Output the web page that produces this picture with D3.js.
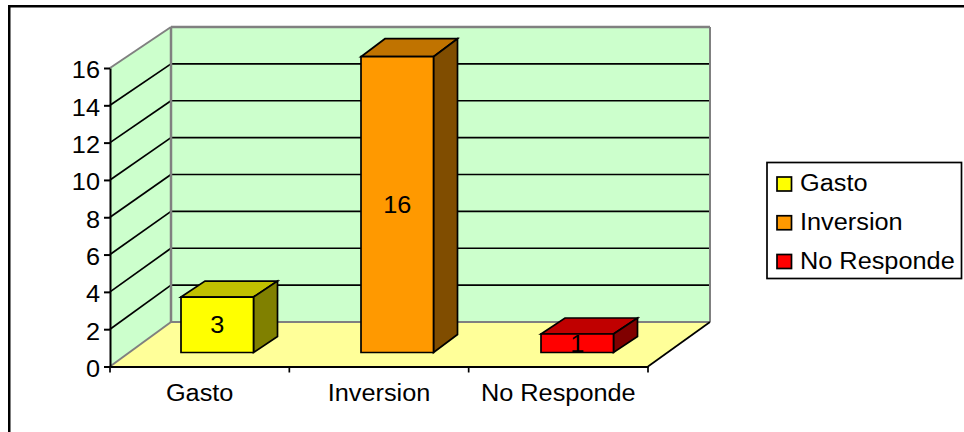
<!DOCTYPE html>
<html><head><meta charset="utf-8">
<script src="https://cdn.jsdelivr.net/npm/d3@7"></script>
<style>html,body{margin:0;padding:0;background:#fff}svg{display:block}
text{font-family:"Liberation Sans",Arial,sans-serif;fill:#000}</style></head>
<body><script>
const categories = ["Gasto","Inversion","No Responde"];
const values = [3,16,1];
const tickValues = [0,2,4,6,8,10,12,14,16];
const faceColors = ["#FFFF00","#FF9900","#FF0000"];
const topColors = ["#C0C000","#C07300","#C00000"];
const sideColors = ["#808000","#804D00","#800000"];
const W=964,H=432,FS=23,STRETCH=1.1;
const svg=d3.select("body").append("svg").attr("width",W).attr("height",H);
// frame: only the top and left edges are inside the picture
svg.append("rect").attr("x",8).attr("y",5).attr("width",W).attr("height",2.5).attr("fill","#000");
svg.append("rect").attr("x",8).attr("y",5).attr("width",2.5).attr("height",H).attr("fill","#000");
const yFront=d3.scaleLinear().domain([0,16]).range([366.5,68]);
const yBack=d3.scaleLinear().domain([0,16]).range([322,27]);
const yBar=d3.scaleLinear().domain([0,16]).range([352.5,56.7]);
const x=d3.scaleBand().domain(categories).range([110,648]);
const xBar=d3.scaleBand().domain(categories).range([127.25,667.25]);
const bx0=110,bx1=171,bx2=710,fx1=648;
const line=d3.line();
const poly=(pts,fill,stroke,sw)=>svg.append("path").attr("d",line(pts)+"Z").attr("fill",fill).attr("stroke",stroke||"none").attr("stroke-width",sw||0).attr("stroke-linejoin","miter");
const seg=(a,b,c,w)=>svg.append("line").attr("x1",a[0]).attr("y1",a[1]).attr("x2",b[0]).attr("y2",b[1]).attr("stroke",c).attr("stroke-width",w);
const stretch=sel=>sel.each(function(){
  const n=this.getComputedTextLength();
  d3.select(this).attr("textLength",n*STRETCH).attr("lengthAdjust","spacingAndGlyphs");
});
// walls and floor
poly([[bx1,yBack(16)],[bx2,yBack(16)],[bx2,yBack(0)],[bx1,yBack(0)]],"#CCFFCC");
poly([[bx0,yFront(16)],[bx1,yBack(16)],[bx1,yBack(0)],[bx0,yFront(0)]],"#CCFFCC");
poly([[bx0,yFront(0)],[bx1,yBack(0)],[bx2,yBack(0)],[fx1,yFront(0)]],"#FFFF99");
// gridlines
tickValues.slice(1,-1).forEach(t=>{
  seg([bx0,yFront(t)],[bx1,yBack(t)],"#000",1.7);
  seg([bx1,yBack(t)],[bx2,yBack(t)],"#000",1.7);
});
// wall edges
seg([bx0,yFront(16)],[bx1,yBack(16)],"#808080",2);
seg([bx1,yBack(16)],[bx2,yBack(16)],"#808080",2.5);
seg([bx1,yBack(16)],[bx1,yBack(0)],"#808080",2.5);
seg([bx2,yBack(16)],[bx2,yBack(0)],"#808080",2);
seg([bx1,yBack(0)],[bx2,yBack(0)],"#808080",2);
seg([bx0,yFront(0)],[bx1,yBack(0)],"#808080",2);
seg([fx1,yFront(0)],[bx2,yBack(0)],"#000",1.7);
// axes
const ay=d3.axisLeft(yFront).tickValues(tickValues).tickSize(6).tickPadding(4).tickSizeOuter(0);
const gy=svg.append("g").attr("transform",`translate(${bx0},0)`).call(ay);
const ax=d3.axisBottom(x).tickSize(0).tickPadding(18).tickSizeOuter(0);
const gx=svg.append("g").attr("transform",`translate(0,${yFront(0)})`).call(ax);
[gy,gx].forEach(g=>{g.selectAll("path,line").attr("stroke","#000").attr("stroke-width",2);
  g.selectAll("text").attr("font-size",FS).attr("font-family",'"Liberation Sans"').attr("fill","#000").call(stretch);});
gy.selectAll("text").attr("dy","0.43em");
gx.selectAll("text").attr("dy",".71em");
const boundaries=[...categories.map(c=>x(c)),x.range()[1]];
boundaries.forEach(b=>seg([b,yFront(0)],[b,yFront(0)+6],"#000",1.7));
// bars
const barW=72.5,dx=24;
categories.forEach((c,i)=>{
  const l=xBar(c)+(xBar.bandwidth()-barW)/2,r=l+barW,t=yBar(values[i]),b=yBar(0);
  const dy=values[i]>10?18:16;
  poly([[l,t],[l+dx,t-dy],[r+dx,t-dy],[r,t]],topColors[i],"#000",1.7);
  poly([[r,t],[r+dx,t-dy],[r+dx,b-dy],[r,b]],sideColors[i],"#000",1.7);
  poly([[l,t],[r,t],[r,b],[l,b]],faceColors[i],"#000",1.7);
  svg.append("text").attr("x",(l+r)/2).attr("y",(t+b)/2).attr("dy",".36em").attr("text-anchor","middle").attr("font-size",FS).text(values[i]).call(stretch);
});
// legend
svg.append("rect").attr("x",767).attr("y",162.5).attr("width",194.5).attr("height",116).attr("fill","#fff").attr("stroke","#000").attr("stroke-width",1.7);
const legY=d3.scalePoint().domain(categories).range([184,261.5]);
categories.forEach((c,i)=>{
  svg.append("rect").attr("x",777).attr("y",legY(c)-7).attr("width",14.5).attr("height",14).attr("fill",faceColors[i]).attr("stroke","#000").attr("stroke-width",1.7);
  svg.append("text").attr("x",800).attr("y",legY(c)).attr("dy",".31em").attr("font-size",FS).text(c).call(stretch);
});
</script></body></html>
